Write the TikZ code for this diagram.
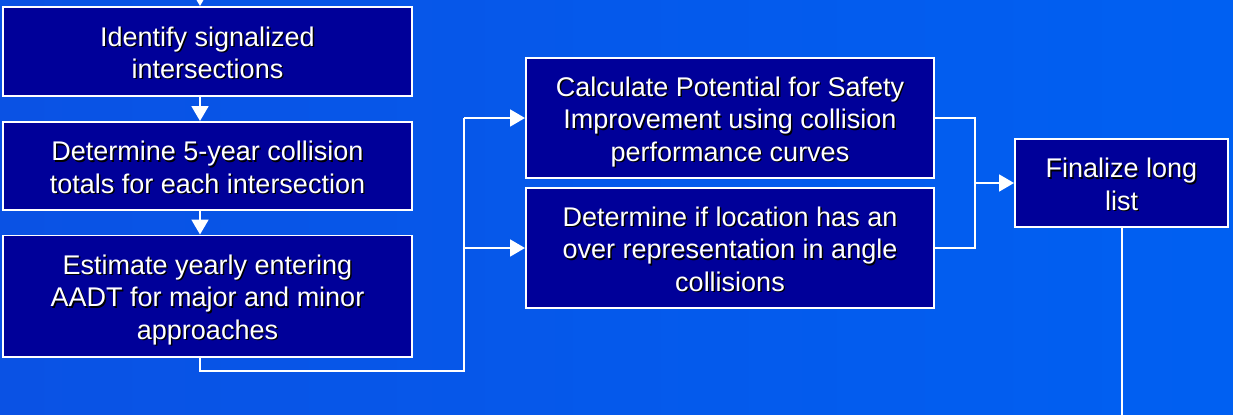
\documentclass[tikz,border=0pt]{standalone}
\usepackage{fontspec}
\setmainfont{Liberation Sans}
\usetikzlibrary{arrows.meta}
\definecolor{bgleft}{RGB}{10,82,228}
\definecolor{bgright}{RGB}{0,96,242}
\definecolor{boxblue}{RGB}{0,0,153}
\newcommand{\shadowtext}[1]{\raisebox{-3.6pt}[\height][\depth]{%
  \rlap{\kern1pt\raisebox{-1pt}{\color{black}\begin{tabular}{@{}c@{}}#1\end{tabular}}}%
  \begin{tabular}{@{}c@{}}#1\end{tabular}}}
\tikzset{stepbox/.style = {draw = white, line width = 1.4pt, fill = boxblue, text = white, inner sep = 0pt,
    font = \fontsize{19.2}{23}\selectfont}}
\tikzset{arr/.style = {white, line width = 1.4pt, -{Triangle[length = 0.37cm, width = 0.42cm]}}}
\tikzset{lin/.style = {white, line width = 1.4pt}}

\begin{document}
\begin{tikzpicture}[x = 0.025cm, y = -0.025cm]
\useasboundingbox (0,0) rectangle (1233,414);
\clip (0,0) rectangle (1233,414);
\shade [left color = bgleft, right color = bgright] (0,0) rectangle (1233,414);
\node [stepbox, minimum width = 10.225cm, minimum height = 2.225cm] (identify) at (207.5,51.5) {\shadowtext{Identify signalized\\intersections}};
\node [stepbox, minimum width = 10.225cm, minimum height = 2.2cm] (totals) at (207.5,166) {\shadowtext{Determine 5-year collision\\totals for each intersection}};
\node [stepbox, minimum width = 10.225cm, minimum height = 3.025cm] (aadt) at (207.5,296) {\shadowtext{Estimate yearly entering\\AADT for major and minor\\approaches}};
\node [stepbox, minimum width = 10.2cm, minimum height = 3cm] (psi) at (730,118) {\shadowtext{Calculate Potential for Safety\\Improvement using collision\\performance curves}};
\node [stepbox, minimum width = 10.2cm, minimum height = 3cm] (angle) at (730,248) {\shadowtext{Determine if location has an\\over representation in angle\\collisions}};
\node [stepbox, minimum width = 5.325cm, minimum height = 2.2cm] (longlist) at (1121.5,183) {\shadowtext{Finalize long\\list}};
\coordinate (spine) at (200,-20);
\coordinate (bus) at (464,371);
\coordinate (join) at (975,183);
\draw [arr] (spine) -- (spine |- identify.north);
\draw [arr] (spine |- identify.south) -- (spine |- totals.north);
\draw [arr] (spine |- totals.south) -- (spine |- aadt.north);
\draw [lin] (spine |- aadt.south) |- (bus) -- (bus |- psi.west);
\draw [arr] (bus |- psi.west) -- (psi.west);
\draw [arr] (bus |- angle.west) -- (angle.west);
\draw [lin] (psi.east) -| (join) |- (angle.east);
\draw [arr] (join) -- (longlist.west);
\draw [lin] (longlist.south) -- ++(0,200);
\end{tikzpicture}
\end{document}
